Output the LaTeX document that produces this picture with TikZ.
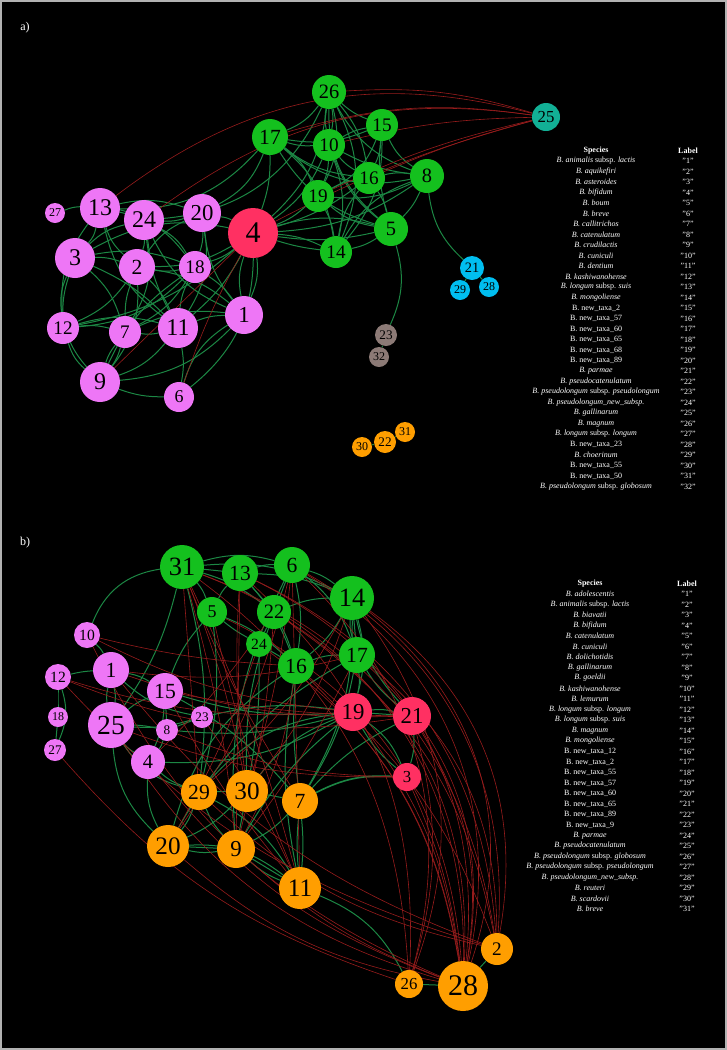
\documentclass[tikz,border=0pt]{standalone}
\usepackage{fontspec}
\setmainfont{Liberation Serif}
\definecolor{vpink}{RGB}{238,118,246}
\definecolor{vgreen}{RGB}{20,192,30}
\definecolor{vred}{RGB}{255,48,98}
\definecolor{vorange}{RGB}{255,158,0}
\definecolor{vcyan}{RGB}{0,190,240}
\definecolor{vbrown}{RGB}{140,122,118}
\definecolor{vteal}{RGB}{18,176,150}
\definecolor{edgegreen}{RGB}{28,135,68}
\definecolor{edgered}{RGB}{150,28,28}
\newcommand{\spsub}[2]{\textit{B. #1} subsp. \textit{#2}}
\newcommand{\newtaxa}[1]{B. new\_taxa\_#1}
\pgfdeclarelayer{bg}
\pgfsetlayers{bg,main}

\begin{document}
\begin{tikzpicture}[x=1pt, y=-1pt,
    vtx/.style={circle, inner sep=0pt, text=black},
    gedge/.style={draw=edgegreen, line width=1pt},
    redge/.style={draw=edgered, line width=0.6pt},
    hdr/.style={text=white, font=\fontsize{8}{9}\selectfont\bfseries},
    row/.style={text=white, font=\fontsize{8}{9}\selectfont},
    panel/.style={text=white, font=\fontsize{12}{14}\selectfont}
  ]
    \useasboundingbox (0,0) rectangle (727,1050);

    % a) network
    \node[panel] (pa) at (25,28) {a)};
    \foreach \n/\x/\y/\r/\c in {1/244/315/19/vpink, 2/137/267/18/vpink, 3/75/258/20/vpink,
        4/253/233/25/vred, 5/391/229/17/vgreen, 6/179/397/15/vpink, 7/125/332/16/vpink,
        8/427/176/17/vgreen, 9/100/382/20/vpink, 10/329/145/16/vgreen, 11/178/328/20/vpink,
        12/63/328/16/vpink, 13/100/208/20/vpink, 14/336/252/16/vgreen, 15/382/125/16/vgreen,
        16/369/178/16/vgreen, 17/270/137/18/vgreen, 18/195/267/16/vpink, 19/318/196/16/vgreen,
        20/202/213/19/vpink, 21/472/268/12/vcyan, 22/385/442/11/vorange, 23/386/335/11/vbrown,
        24/144/220/20/vpink, 25/546/117/14/vteal, 26/329/92/17/vgreen, 27/55/213/10/vpink,
        28/489/287/10/vcyan, 29/460/290/10/vcyan, 30/362/447/10/vorange, 31/405/432/10/vorange,
        32/379/357/10/vbrown} {
      \pgfmathsetmacro\fs{1.2*\r}
      \node[vtx, fill=\c, minimum size=2*\r] (a\n) at (\x,\y) {\fontsize{\fs}{\fs}\selectfont\n};
    }

    % b) network
    \node[panel] (pb) at (25,543) {b)};
    \foreach \n/\x/\y/\r/\c in {1/111/670/18/vpink, 2/497/949/16/vorange, 3/407/777/14/vred,
        4/148/762/17/vpink, 5/212/612/15/vgreen, 6/292/565/18/vgreen, 7/300/801/18/vorange,
        8/167/730/11/vpink, 9/236/849/19/vorange, 10/87/635/13/vpink, 11/300/888/21/vorange,
        12/58/677/13/vpink, 13/240/573/18/vgreen, 14/352/598/22/vgreen, 15/165/691/18/vpink,
        16/296/666/18/vgreen, 17/357/655/18/vgreen, 18/58/717/10/vpink, 19/353/712/19/vred,
        20/168/846/21/vorange, 21/412/716/19/vred, 22/274/612/17/vgreen, 23/202/717/11/vpink,
        24/259/644/13/vgreen, 25/111/725/23/vpink, 26/409/984/14/vorange, 27/55/750/11/vpink,
        28/463/986/25/vorange, 29/199/792/18/vorange, 30/247/791/21/vorange,
        31/182/567/22/vgreen} {
      \pgfmathsetmacro\fs{1.2*\r}
      \node[vtx, fill=\c, minimum size=2*\r] (b\n) at (\x,\y) {\fontsize{\fs}{\fs}\selectfont\n};
    }

    \begin{pgfonlayer}{bg}
      \fill[black] (0,0) rectangle (727,1050);
      \draw[gray!60, line width=2pt] (1,1) rectangle (726,1049);

      % a) green links
      \foreach \p/\q/\b in {27/13/10, 13/24/10, 13/3/15, 13/2/-15, 13/18/20, 13/11/-20, 13/20/15,
          24/2/10, 24/20/-10, 24/3/-15, 24/18/15, 24/11/-10, 24/7/20, 24/1/-20, 20/4/10, 20/18/10,
          20/2/-15, 20/11/20, 20/1/-15, 3/2/10, 3/12/-15, 3/7/15, 3/11/10, 3/9/-30, 3/18/15,
          2/18/-10, 2/11/10, 2/7/-10, 2/12/15, 2/9/20, 2/1/15, 18/4/-10, 18/1/10, 18/11/-10,
          18/7/15, 18/12/20, 1/4/15, 1/4/-15, 1/11/-10, 1/6/-20, 1/9/20, 1/7/-15, 12/7/10,
          12/9/-15, 12/11/15, 7/11/-10, 7/9/10, 7/9/-10, 11/9/15, 11/6/10, 9/6/-10, 9/18/15,
          6/4/-25, 4/3/-20, 4/2/15, 4/11/10, 4/12/15, 12/13/20,
          20/17/-20, 13/17/-25, 4/17/-10, 4/26/-20, 24/26/-30, 4/19/-10, 4/14/10, 4/14/-5,
          4/5/15, 4/5/-10, 4/16/-10, 4/10/-15, 4/8/-15,
          26/17/15, 26/10/10, 26/10/-10, 26/15/-10, 26/16/15, 26/19/20, 26/8/-20, 26/5/-25,
          26/14/25, 17/10/-10, 17/19/15, 17/16/-15, 17/14/20, 17/5/-20, 17/15/-15, 17/8/-25,
          10/15/10, 10/16/-10, 10/19/10, 10/5/-15, 10/8/-10, 10/14/15, 15/16/10, 15/8/-15,
          15/19/20, 15/5/-10, 15/14/20, 16/8/10, 16/19/-10, 16/5/10, 16/14/-15, 19/14/10,
          19/5/-15, 8/5/10, 8/14/-20, 5/14/10, 19/8/-15,
          8/21/-20, 5/23/20, 23/32/0, 21/29/0, 21/28/0, 30/22/0, 22/31/0}
        \draw[gedge] (a\p) to[bend left=\b] (a\q);
      % a) red links
      \foreach \p/\q/\b in {25/26/-10, 25/13/-26, 25/24/-22, 25/17/-12, 25/10/-6, 25/19/-6,
          25/4/-6, 25/16/-4, 4/9/0, 4/6/-5}
        \draw[redge] (a\p) to[bend left=\b] (a\q);

      % b) green links
      \foreach \p/\q/\b in {31/10/-30, 31/13/0, 31/5/10, 31/22/10, 31/6/15, 31/14/15, 13/6/10,
          13/22/0, 13/5/-10, 13/16/10, 13/14/10, 6/14/10, 6/22/0, 6/16/10, 6/17/15, 14/17/0,
          14/17/-10, 14/16/10, 14/22/-10, 14/19/15, 22/24/0, 22/16/5, 5/24/-5, 5/16/10, 24/16/0,
          16/17/10, 17/19/10, 17/21/-10, 19/21/0, 19/21/10, 21/3/10, 19/3/-10, 19/3/15, 14/21/-15,
          10/1/10, 12/1/5, 12/18/0, 18/27/0, 12/27/20, 1/25/10, 1/25/-10, 1/15/10, 25/15/10,
          25/8/5, 25/4/-10, 25/23/-10, 15/8/0, 15/4/10, 8/23/0, 4/8/-10, 23/19/10, 1/23/-15,
          29/30/0, 30/7/0, 29/20/10, 29/9/-10, 30/9/0, 30/20/10, 7/9/10, 7/11/5, 7/11/-5, 20/9/0,
          20/9/-10, 20/11/20, 9/11/0, 9/11/-10, 29/11/15, 11/26/20, 26/28/0, 28/2/0,
          4/29/-10, 4/20/-15, 25/29/-20, 25/20/-20,
          16/7/-5, 16/11/-10, 17/7/10, 19/30/-15, 19/29/-20, 19/9/-10, 5/29/10, 5/15/-10,
          24/30/5, 22/30/-10, 15/19/-10, 8/19/-10, 4/19/-15, 15/7/10, 31/29/10, 31/25/10,
          14/7/15, 17/20/-15, 21/7/-10, 16/20/-20, 6/9/-15}
        \draw[gedge] (b\p) to[bend left=\b] (b\q);
      \draw[gedge, line width=1.6pt] (b7) to[bend left=15] (b3);
      % b) red links
      \foreach \p/\q/\b in {28/14/-35, 28/6/-35, 28/13/-35, 28/31/-35, 28/5/-30, 28/22/-30,
          28/17/-28, 28/24/-22, 28/16/-18, 28/19/-14, 28/21/-20, 28/3/-8, 2/14/-32, 2/6/-32,
          2/31/-30, 2/13/-30, 2/22/-22, 2/17/-25, 2/16/-14, 26/14/-28, 26/6/-30, 26/31/-25,
          26/13/-25, 26/21/-15, 4/28/-15, 25/28/-20, 20/28/-15, 12/2/-15, 1/2/-15, 27/26/-15,
          10/28/-20, 9/28/-10, 29/2/-15,
          31/29/0, 31/30/5, 31/9/5, 31/11/5, 31/7/-5, 13/30/-5, 13/9/0, 5/11/-5, 6/30/5,
          6/11/0, 22/9/5, 10/19/-10, 1/21/-10, 12/19/-10, 1/17/-10, 10/16/-5, 15/21/-5,
          25/3/-10, 8/3/-10, 23/11/5, 15/11/-5, 12/21/-15, 14/29/10, 6/20/10, 24/20/5,
          22/4/5, 16/9/10, 14/30/10, 17/9/5}
        \draw[redge] (b\p) to[bend left=\b] (b\q);
    \end{pgfonlayer}

    % a) key
    \node[hdr] (sha) at (596,151) {Species};
    \node[hdr] (lha) at (688,151) {Label};
    \foreach \s [count=\i] in {\spsub{animalis}{lactis}, \textit{B. aquikefiri},
        \textit{B. asteroides}, \textit{B. bifidum}, \textit{B. boum}, \textit{B. breve},
        \textit{B. callitrichos}, \textit{B. catenulatum}, \textit{B. crudilactis},
        \textit{B. cuniculi}, \textit{B. dentium}, \textit{B. kashiwanohense},
        \spsub{longum}{suis}, \textit{B. mongoliense}, \newtaxa{2}, \newtaxa{57}, \newtaxa{60},
        \newtaxa{65}, \newtaxa{68}, \newtaxa{89}, \textit{B. parmae}, \textit{B. pseudocatenulatum},
        \spsub{pseudolongum}{pseudolongum}, \textit{B. pseudolongum\_new\_subsp.},
        \textit{B. gallinarum}, \textit{B. magnum}, \spsub{longum}{longum}, \newtaxa{23},
        \textit{B. choerinum}, \newtaxa{55}, \newtaxa{50}, \spsub{pseudolongum}{globosum}} {
      \node[row] (sa\i) at (596,150.5+10.5*\i) {\s};
      \node[row] (la\i) at (688,150.5+10.5*\i) {"\i"};
    }

    % b) key
    \node[hdr] (shb) at (590,584) {Species};
    \node[hdr] (lhb) at (687,584) {Label};
    \foreach \s [count=\i] in {\textit{B. adolescentis}, \spsub{animalis}{lactis},
        \textit{B. biavatii}, \textit{B. bifidum}, \textit{B. catenulatum}, \textit{B. cuniculi},
        \textit{B. dolichotidis}, \textit{B. gallinarum}, \textit{B. goeldii},
        \textit{B. kashiwanohense}, \textit{B. lemurum}, \spsub{longum}{longum},
        \spsub{longum}{suis}, \textit{B. magnum}, \textit{B. mongoliense}, \newtaxa{12},
        \newtaxa{2}, \newtaxa{55}, \newtaxa{57}, \newtaxa{60}, \newtaxa{65}, \newtaxa{89},
        \newtaxa{9}, \textit{B. parmae}, \textit{B. pseudocatenulatum},
        \spsub{pseudolongum}{globosum}, \spsub{pseudolongum}{pseudolongum},
        \textit{B. pseudolongum\_new\_subsp.}, \textit{B. reuteri}, \textit{B. scardovii},
        \textit{B. breve}} {
      \node[row] (sb\i) at (590,583.5+10.5*\i) {\s};
      \node[row] (lb\i) at (687,583.5+10.5*\i) {"\i"};
    }
  \end{tikzpicture}
\end{document}
